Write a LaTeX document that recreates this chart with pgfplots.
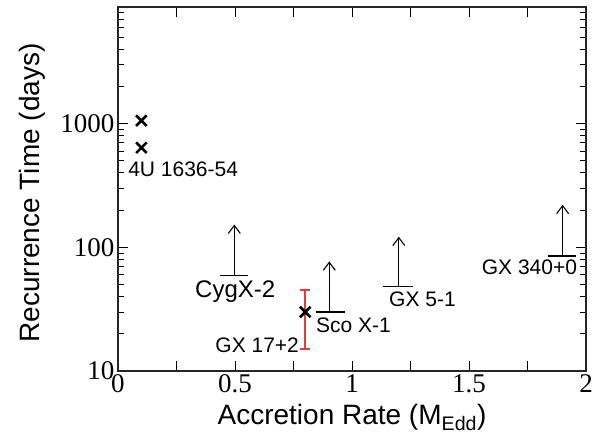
\documentclass[border=0pt]{standalone}
\usepackage{fontspec}
\setmainfont{Liberation Sans}
\newfontfamily\numfont{Liberation Serif}
\usepackage{pgfplots}
\pgfplotsset{compat=1.18}
\usetikzlibrary{arrows.meta}
\definecolor{errred}{HTML}{E03C3C}
\newcommand\annfont{\fontsize{21}{25}\selectfont}
\begin{document}
\begin{tikzpicture}
\begin{axis}[
  at={(0,0)}, anchor=south west,
  scale only axis, width=468pt, height=364pt,
  xmin=0, xmax=2, ymode=log, ymin=10, ymax=8800,
  clip=false,
  xtick={0,0.25,0.5,0.75,1,1.25,1.5,1.75,2},
  xticklabels={0,,0.5,,1,,1.5,,2},
  ytick={10,100,1000}, yticklabels={10,100,1000},
  minor ytick={20,30,40,50,60,70,80,90,200,300,400,500,600,700,800,900,2000,3000,4000,5000,6000,7000,8000},
  major tick length=10pt, minor tick length=6pt,
  every tick/.style={black, line width=1pt},
  axis line style={line width=1.3pt, black!85},
  /pgf/number format/assume math mode=true,
  ticklabel style={font=\numfont\fontsize{27}{30}\selectfont},
  label style={font=\fontsize{28}{32}\selectfont},
  xlabel={Accretion Rate (M\textsubscript{Edd})},
  ylabel={Recurrence Time (days)},
  xlabel style={at={(axis description cs:0.5,-0.148)}, anchor=base},
  ylabel style={at={(axis description cs:-0.1688,0.489)}, anchor=base, rotate=0},
]
% GX 17+2 error bar (15 to 45 days)
\addplot[color=errred, line width=1.6pt, mark=-, mark size=5pt,
  mark options={color=errred, line width=1.6pt}]
  coordinates {(0.8,15) (0.8,45)};
% crosses
\addplot[only marks, mark=x, mark size=7.5pt, line width=2.6pt, black]
  coordinates {(0.1,1060) (0.1,640) (0.8,30)};
% lower limits: horizontal bars
\addplot[black, line width=1.3pt, no marks] coordinates {(0.436,59) (0.556,59)};
\addplot[black, line width=1.3pt, no marks] coordinates {(0.846,30) (0.970,30)};
\addplot[black, line width=1.3pt, no marks] coordinates {(1.132,48) (1.261,48)};
\addplot[black, line width=1.3pt, no marks] coordinates {(1.836,85) (1.957,85)};
% arrows
\addplot[black, line width=1.1pt, no marks, -{Straight Barb[length=8pt,width=12pt]}] coordinates {(0.497,59) (0.497,153)};
\addplot[black, line width=1.1pt, no marks, -{Straight Barb[length=8pt,width=12pt]}] coordinates {(0.903,30) (0.903,77)};
\addplot[black, line width=1.1pt, no marks, -{Straight Barb[length=8pt,width=12pt]}] coordinates {(1.2,48) (1.2,122)};
\addplot[black, line width=1.1pt, no marks, -{Straight Barb[length=8pt,width=12pt]}] coordinates {(1.9,85) (1.9,221)};
% labels
\node[anchor=base west, inner sep=0, font=\annfont] at (axis cs:0.043,372) {4U 1636-54};
\node[anchor=base west, inner sep=0, font=\fontsize{24}{28}\selectfont] at (axis cs:0.329,39) {CygX-2};
\node[anchor=base east, inner sep=0, font=\annfont] at (axis cs:0.774,14.0) {GX 17+2};
\node[anchor=base west, inner sep=0, font=\annfont] at (axis cs:0.846,20.3) {Sco X-1};
\node[anchor=base west, inner sep=0, font=\annfont] at (axis cs:1.158,33.0) {GX 5-1};
\node[anchor=base west, inner sep=0, font=\annfont] at (axis cs:1.554,59.9) {GX 340+0};
\end{axis}
\pgfresetboundingbox
\useasboundingbox (-118pt,-63pt) rectangle (481pt,371pt);
\end{tikzpicture}
\end{document}
